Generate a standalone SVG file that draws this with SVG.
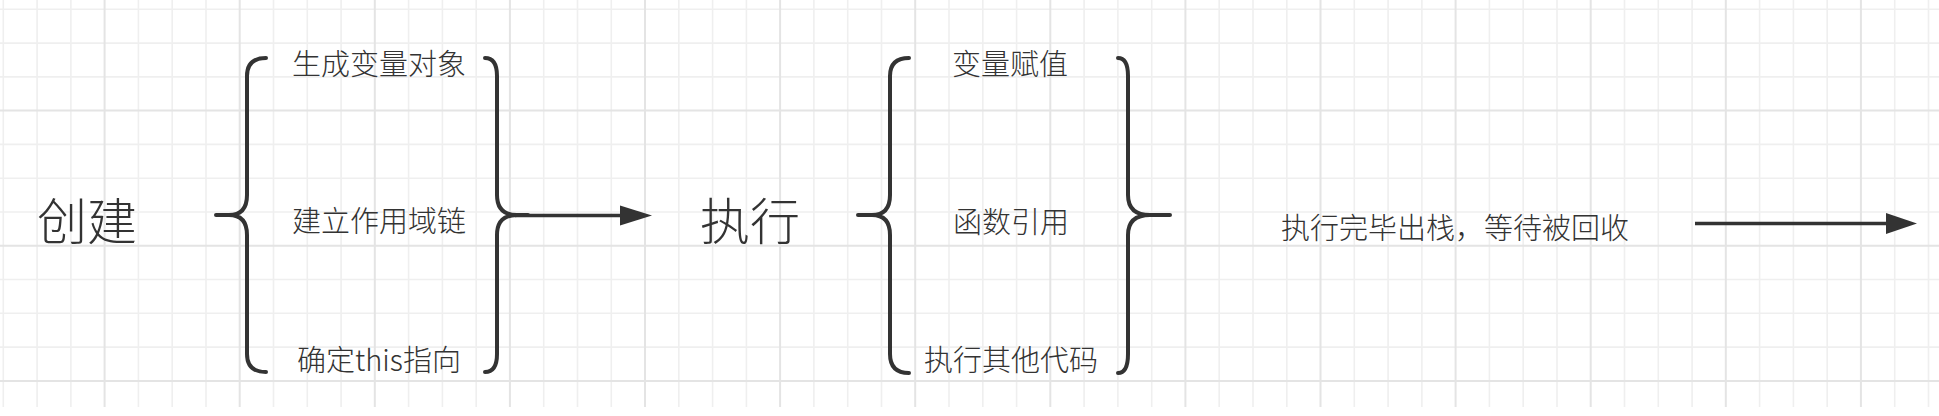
<svg xmlns="http://www.w3.org/2000/svg" width="1939" height="416" viewBox="0 0 1939 416">
<style>
.gmin{stroke:#efefef;stroke-width:1.6;fill:none}
.gmaj{stroke:#e4e4e4;stroke-width:2;fill:none}
.brace{stroke:#333;stroke-width:4;fill:none;stroke-linecap:round;stroke-linejoin:round}
.conn{stroke:#333;stroke-width:3.6;fill:none}
.head{fill:#333}
text{font-family:"Noto Sans CJK SC","Noto Sans",sans-serif;font-weight:300;fill:#333;text-anchor:middle;dominant-baseline:central}
.big{font-size:50px}
.small{font-size:29px}
</style>
<rect width="1939" height="416" fill="#fff"/>
<g id="grid">
<path class="gmin" d="M3.3 0V407M37.1 0V407M70.9 0V407M138.4 0V407M172.2 0V407M206 0V407M273.5 0V407M307.3 0V407M341.1 0V407M408.6 0V407M442.4 0V407M476.2 0V407M543.7 0V407M577.5 0V407M611.3 0V407M678.8 0V407M712.6 0V407M746.4 0V407M813.9 0V407M847.7 0V407M881.5 0V407M949 0V407M982.8 0V407M1016.6 0V407M1084.1 0V407M1117.9 0V407M1151.7 0V407M1219.2 0V407M1253 0V407M1286.8 0V407M1354.3 0V407M1388.1 0V407M1421.9 0V407M1489.4 0V407M1523.2 0V407M1557 0V407M1624.5 0V407M1658.3 0V407M1692.1 0V407M1759.6 0V407M1793.4 0V407M1827.2 0V407M1894.7 0V407M1928.5 0V407"/>
<path class="gmin" d="M0 9.3H1939M0 43.1H1939M0 76.9H1939M0 144.4H1939M0 178.2H1939M0 212H1939M0 279.5H1939M0 313.3H1939M0 347.1H1939"/>
<path class="gmaj" d="M104.6 0V407M239.7 0V407M374.8 0V407M509.9 0V407M645 0V407M780.1 0V407M915.2 0V407M1050.3 0V407M1185.4 0V407M1320.5 0V407M1455.6 0V407M1590.7 0V407M1725.8 0V407M1860.9 0V407"/>
<path class="gmaj" d="M0 110.6H1939M0 245.8H1939M0 380.9H1939"/>
</g>
<g id="create"><text class="big" x="87" y="218">创建</text></g>
<g id="brace-create">
<path class="brace" d="M266 58Q247 58 247 76L247 195Q247 215 229 215L216 215L229 215Q247 215 247 235L247 354Q247 372 266 372"/>
<path class="brace" d="M485 58Q497 58 497 76L497 195Q497 215 517 215L528 215L517 215Q497 215 497 235L497 354Q497 372 485 372"/>
</g>
<g id="item-vo"><text class="small" x="379" y="62">生成变量对象</text></g>
<g id="item-scope"><text class="small" x="379" y="219">建立作用域链</text></g>
<g id="item-this"><text class="small" x="379" y="358">确定this指向</text></g>
<g id="execute"><text class="big" x="750" y="218">执行</text></g>
<g id="brace-execute">
<path class="brace" d="M909 58Q890 58 890 76L890 195Q890 215 872 215L858 215L872 215Q890 215 890 235L890 354Q890 373 909 373"/>
<path class="brace" d="M1118 58Q1128 58 1128 76L1128 195Q1128 215 1150 215L1170 215L1150 215Q1128 215 1128 235L1128 354Q1128 373 1118 373"/>
</g>
<g id="item-assign"><text class="small" x="1010" y="62">变量赋值</text></g>
<g id="item-func"><text class="small" x="1011" y="220">函数引用</text></g>
<g id="item-other"><text class="small" x="1011" y="358">执行其他代码</text></g>
<g id="finish"><text class="small" x="1455" y="226">执行完毕出栈，等待被回收</text></g>
<g id="connectors">
<path class="conn" d="M515 215.5H622"/>
<polygon class="head" points="620,205.5 652,215.5 620,225.5"/>
<path class="conn" d="M1695 223.5H1888"/>
<polygon class="head" points="1886,213 1917,223.5 1886,234"/>
</g>
</svg>
